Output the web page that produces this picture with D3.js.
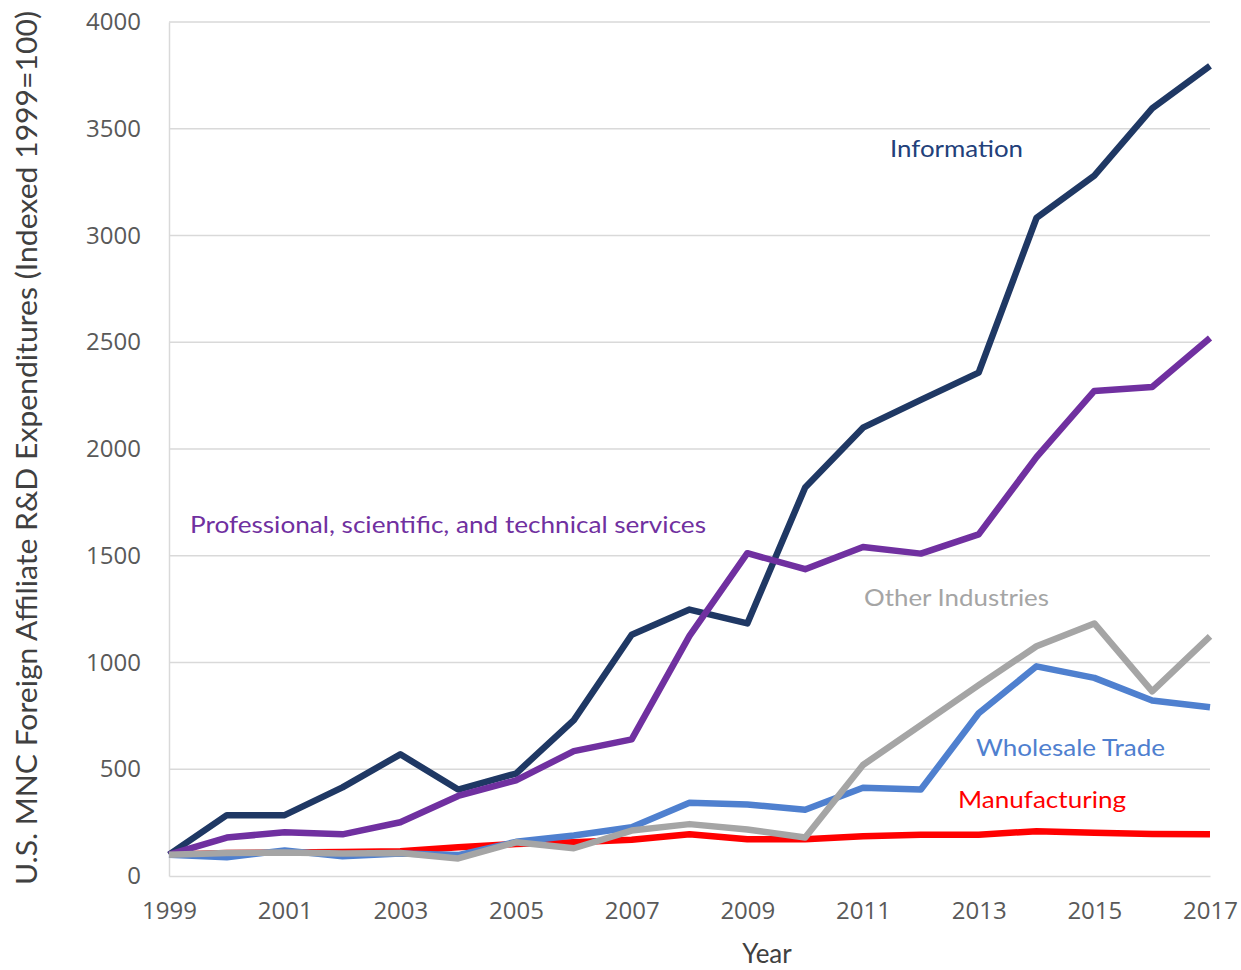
<!DOCTYPE html>
<html>
<head>
<meta charset="utf-8">
<script src="https://cdn.jsdelivr.net/npm/d3@7"></script>
<style>
  body { margin: 0; background: #fff; }
  svg { display: block; }
</style>
</head>
<body>
<svg id="chart" width="1241" height="970"></svg>
<script>
// years on the x axis
const years = d3.range(1999, 2018);
const xTickYears = [1999, 2001, 2003, 2005, 2007, 2009, 2011, 2013, 2015, 2017];
const yTicks = [0, 500, 1000, 1500, 2000, 2500, 3000, 3500, 4000];

// values (indexed 1999=100)
const information = [100, 285, 285, 415, 570, 405, 480, 730, 1130, 1248, 1183, 1820, 2100, 2230, 2358, 3082, 3280, 3595, 3795];
const professional = [100, 180, 205, 195, 252, 375, 448, 585, 640, 1125, 1512, 1437, 1541, 1510, 1600, 1962, 2272, 2290, 2520];
const wholesale = [100, 88, 120, 92, 105, 98, 160, 190, 228, 343, 335, 310, 413, 405, 762, 982, 928, 822, 790];
const other = [100, 108, 110, 105, 108, 82, 158, 130, 213, 243, 218, 180, 520, 707, 894, 1076, 1183, 865, 1122];
const manufacturing = [100, 108, 110, 113, 116, 135, 150, 158, 170, 196, 172, 172, 186, 193, 193, 210, 203, 197, 195];

const seriesNames = ["Manufacturing", "Wholesale Trade", "Information", "Professional, scientific, and technical services", "Other Industries"];
const seriesValues = [manufacturing, wholesale, information, professional, other];
const seriesColors = ["#ff0000", "#4f80cf", "#1f3864", "#7030a0", "#a5a5a5"];

const svg = d3.select("#chart");
const margin = { top: 22, right: 31, bottom: 94, left: 169 };
const width = 1241 - margin.left - margin.right;
const height = 970 - margin.top - margin.bottom;

const x = d3.scaleLinear().domain([1999, 2017]).range([0, width]);
const y = d3.scaleLinear().domain([0, 4000]).range([height, 0]);

const g = svg.append("g").attr("transform", `translate(${margin.left},${margin.top})`);

// gridlines
g.append("g")
  .selectAll("line")
  .data(yTicks.filter(d => d > 0))
  .enter()
  .append("line")
  .attr("x1", 0)
  .attr("x2", width)
  .attr("y1", d => y(d))
  .attr("y2", d => y(d))
  .style("stroke", "#d9d9d9")
  .style("stroke-width", 1.3);

// y axis
const yAxis = g.append("g")
  .call(d3.axisLeft(y).tickValues(yTicks).tickSize(0).tickPadding(28).tickFormat(d3.format("d")));
yAxis.select(".domain").style("stroke", "#d9d9d9").style("stroke-width", 1.5);
yAxis.selectAll("text")
  .style("font-family", "'Open Sans', sans-serif")
  .style("font-size", "24px")
  .style("fill", "#595959");

// x axis
const xAxis = g.append("g")
  .attr("transform", `translate(0,${height})`)
  .call(d3.axisBottom(x).tickValues(xTickYears).tickSize(0).tickPadding(26).tickFormat(d3.format("d")));
xAxis.select(".domain").style("stroke", "#d9d9d9").style("stroke-width", 1.5);
xAxis.selectAll("text")
  .style("font-family", "'Open Sans', sans-serif")
  .style("font-size", "24px")
  .style("fill", "#595959");

// lines
const line = d3.line()
  .x((d, i) => x(years[i]))
  .y(d => y(d));

seriesValues.forEach((vals, k) => {
  g.append("path")
    .datum(vals)
    .attr("d", line)
    .attr("fill", "none")
    .style("stroke", seriesColors[k])
    .style("stroke-width", 6.5)
    .style("stroke-linejoin", "round");
});

// series labels
const labels = [
  { name: "Information", color: "#22407a", x: 890, y: 157, len: 133 },
  { name: "Professional, scientific, and technical services", color: "#7030a0", x: 190, y: 533, len: 516 },
  { name: "Other Industries", color: "#a5a5a5", x: 864, y: 606, len: 185 },
  { name: "Wholesale Trade", color: "#4f80cf", x: 976, y: 756, len: 189 },
  { name: "Manufacturing", color: "#ff0000", x: 958, y: 808, len: 168 }
];

svg.selectAll(".serieslabel")
  .data(labels)
  .enter()
  .append("text")
  .attr("class", "serieslabel")
  .attr("x", d => d.x)
  .attr("y", d => d.y)
  .attr("textLength", d => d.len)
  .attr("lengthAdjust", "spacingAndGlyphs")
  .style("font-family", "Lato, 'Open Sans', sans-serif")
  .style("font-size", "23px")
  .style("fill", d => d.color)
  .text(d => d.name);

// axis titles
svg.append("text")
  .attr("transform", "translate(37,448) rotate(-90)")
  .attr("text-anchor", "middle")
  .attr("textLength", 874)
  .attr("lengthAdjust", "spacingAndGlyphs")
  .style("font-family", "Lato, 'Open Sans', sans-serif")
  .style("font-size", "28px")
  .style("fill", "#404040")
  .text("U.S. MNC Foreign Affiliate R&D Expenditures  (Indexed 1999=100)");

svg.append("text")
  .attr("x", 767)
  .attr("y", 963)
  .attr("text-anchor", "middle")
  .style("font-family", "Lato, 'Open Sans', sans-serif")
  .style("font-size", "26px")
  .style("fill", "#404040")
  .text("Year");
</script>
</body>
</html>
